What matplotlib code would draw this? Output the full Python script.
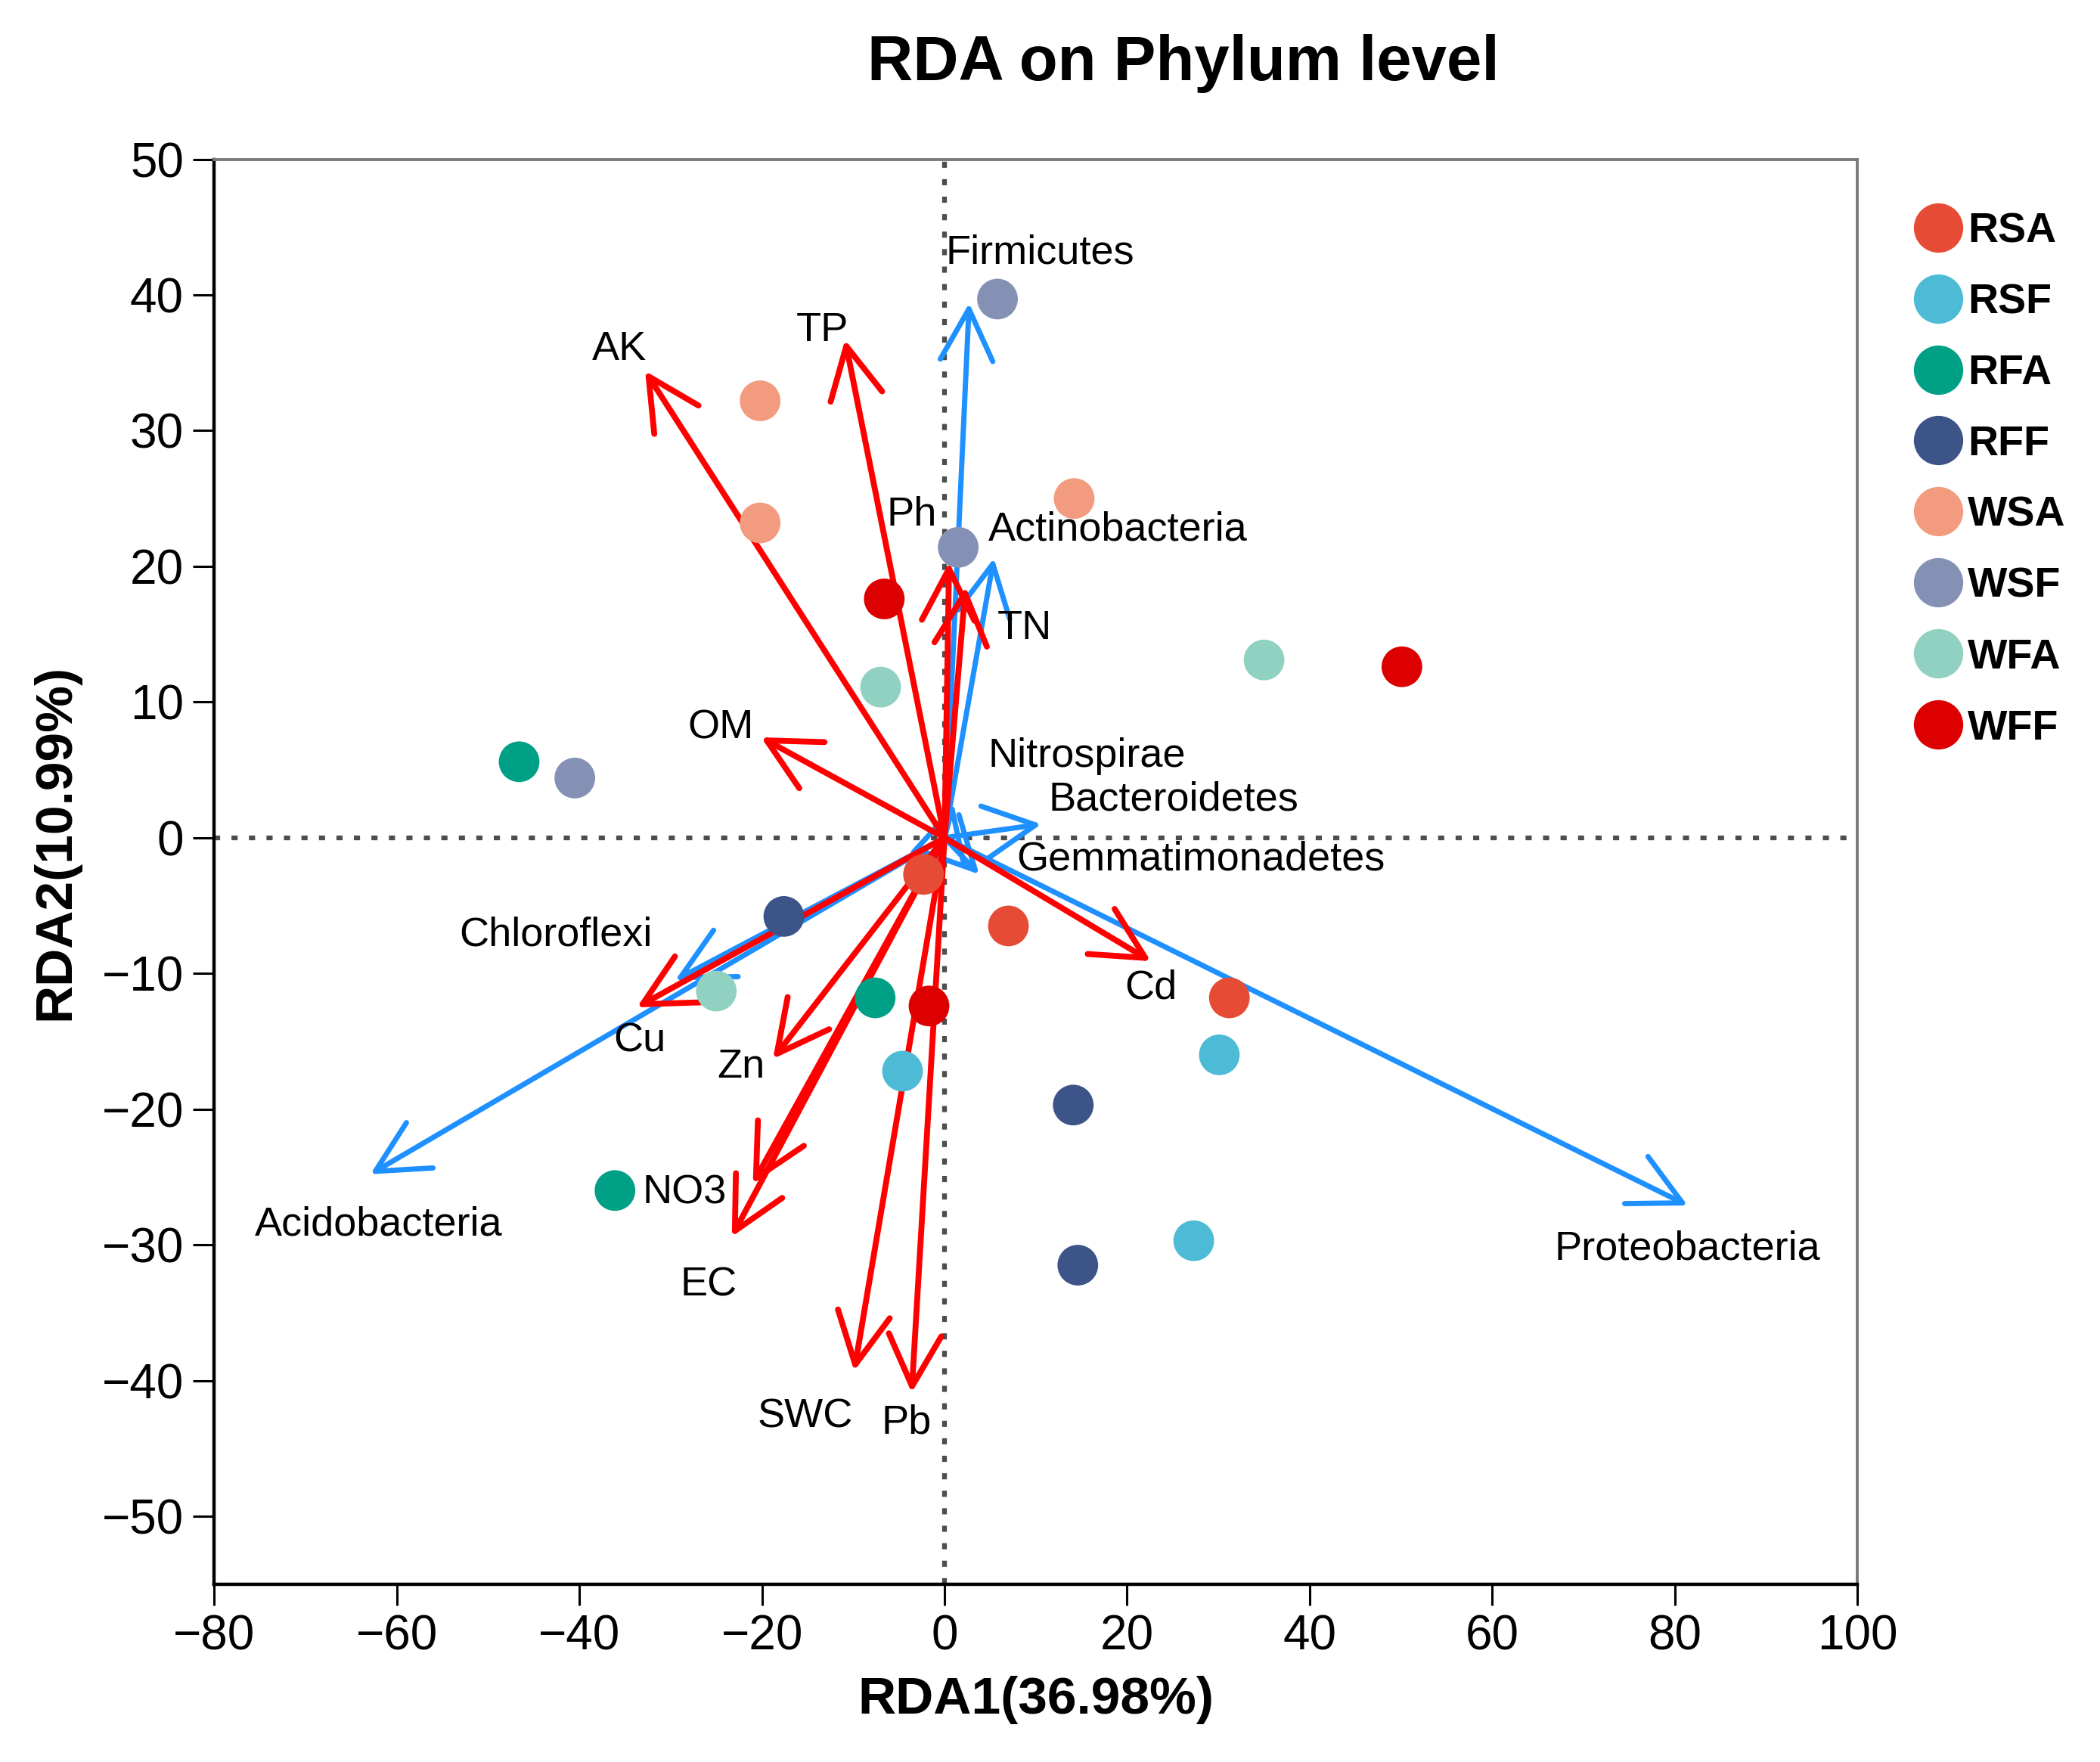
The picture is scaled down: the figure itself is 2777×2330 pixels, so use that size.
"""RDA biplot on phylum level: sites, phylum arrows (blue) and environmental arrows (red)."""
import matplotlib
matplotlib.use("Agg")
import matplotlib.pyplot as plt
from matplotlib.lines import Line2D

plt.rcParams["font.family"] = ["Liberation Sans", "DejaVu Sans"]

# sample groups and site scores (RDA1, RDA2)
GROUPS = ["RSA", "RSF", "RFA", "RFF", "WSA", "WSF", "WFA", "WFF"]
COLORS = ["#E64B35", "#4DBBD5", "#00A087", "#3C5488",
          "#F39B7F", "#8491B4", "#91D1C2", "#DC0000"]
SITE_X = {
    "RSA": [-2.3, 7.0, 31.2],
    "RSF": [-4.6, 30.1, 27.3],
    "RFA": [-46.6, -7.6, -36.1],
    "RFF": [-17.6, 14.1, 14.6],
    "WSA": [-20.2, -20.2, 14.2],
    "WSF": [5.8, 1.5, -40.5],
    "WFA": [-7.0, 35.0, -25.0],
    "WFF": [-6.6, 50.1, -1.7],
}
SITE_Y = {
    "RSA": [-2.7, -6.5, -11.8],
    "RSF": [-17.2, -16.0, -29.7],
    "RFA": [5.6, -11.8, -26.0],
    "RFF": [-5.8, -19.7, -31.5],
    "WSA": [32.2, 23.2, 25.0],
    "WSF": [39.7, 21.4, 4.4],
    "WFA": [11.1, 13.1, -11.3],
    "WFF": [17.6, 12.6, -12.4],
}

# phylum (species) scores
PHYLA = ["Firmicutes", "Actinobacteria", "Nitrospirae", "Bacteroidetes",
         "Gemmatimonadetes", "Chloroflexi", "Acidobacteria", "Proteobacteria"]
PHYLA_X = [2.7, 5.4, 1.0, 10.6, 3.8, -29.5, -62.9, 81.4]
PHYLA_Y = [39.4, 20.6, 2.5, 1.0, -2.7, -10.5, -24.8, -27.1]

# environmental factor scores
ENV = ["AK", "TP", "Ph", "TN", "OM", "Cu", "Zn", "NO3", "EC", "SWC", "Pb", "Cd"]
ENV_X = [-32.8, -10.9, 0.5, 2.3, -20.1, -33.7, -18.8, -21.0, -23.3, -9.9, -3.6, 22.6]
ENV_Y = [34.4, 36.7, 20.3, 18.5, 7.4, -12.5, -16.3, -25.5, -29.4, -39.3, -40.9, -9.1]

# label placement (data coords, horizontal alignment)
PHYLA_LABEL = {
    "Firmicutes": (0.1, 43.1, "left"),
    "Actinobacteria": (4.8, 22.7, "left"),
    "Nitrospirae": (4.8, 6.0, "left"),
    "Bacteroidetes": (11.4, 2.8, "left"),
    "Gemmatimonadetes": (7.9, -1.6, "left"),
    "Chloroflexi": (-42.6, -7.2, "center"),
    "Acidobacteria": (-62.0, -28.5, "center"),
    "Proteobacteria": (81.4, -30.3, "center"),
}
ENV_LABEL = {
    "AK": (-35.6, 36.0, "center"), "TP": (-13.4, 37.4, "center"),
    "Ph": (-3.6, 23.8, "center"), "TN": (5.8, 15.4, "left"),
    "OM": (-24.5, 8.1, "center"), "Cu": (-33.4, -15.0, "center"),
    "Zn": (-22.3, -16.9, "center"), "NO3": (-33.1, -26.2, "left"),
    "EC": (-25.8, -33.0, "center"), "SWC": (-15.3, -42.7, "center"),
    "Pb": (-4.2, -43.1, "center"), "Cd": (22.6, -11.1, "center"),
}

BLUE = "#1E90FF"
RED = "#FF0000"
LABEL_FS = 39


def draw_arrow(ax, x, y, color, lw):
    ax.annotate("", xy=(x, y), xytext=(0, 0),
                arrowprops=dict(arrowstyle="->,head_length=4.9,head_width=2.5",
                                mutation_scale=10, color=color, lw=lw,
                                shrinkA=0, shrinkB=0),
                zorder=2)


def main() -> None:
    fig = plt.figure(figsize=(27.77, 23.30), dpi=100)
    ax = fig.add_axes([0.102, 0.101, 0.7825, 0.8086])
    ax.set_xlim(-80, 100)
    ax.set_ylim(-55, 50)

    # zero lines
    ax.axhline(0, color="#4d4d4d", lw=4.5, ls=(0, (1.3, 2.4)), zorder=1)
    ax.axvline(0, color="#4d4d4d", lw=4.5, ls=(0, (1.3, 2.4)), zorder=1)

    for name, x, y in zip(PHYLA, PHYLA_X, PHYLA_Y):
        draw_arrow(ax, x, y, BLUE, 5.0)
    for name, x, y in zip(ENV, ENV_X, ENV_Y):
        draw_arrow(ax, x, y, RED, 5.6)

    for g, c in zip(GROUPS, COLORS):
        ax.scatter(SITE_X[g], SITE_Y[g], s=1500, color=c, edgecolors="none",
                   zorder=4)

    for name in PHYLA:
        lx, ly, ha = PHYLA_LABEL[name]
        ax.text(lx, ly, name, fontsize=LABEL_FS, ha=ha, va="center", zorder=5)
    for name in ENV:
        lx, ly, ha = ENV_LABEL[name]
        ax.text(lx, ly, name, fontsize=LABEL_FS, ha=ha, va="center", zorder=5)

    # axes styling
    ax.set_xticks(range(-80, 101, 20))
    ax.set_yticks(range(-50, 51, 10))
    ax.tick_params(axis="both", which="major", labelsize=46, length=20,
                   width=2.2, direction="out", pad=9, top=False, right=False)
    for side in ("left", "bottom"):
        ax.spines[side].set_linewidth(3.2)
        ax.spines[side].set_color("black")
    for side in ("top", "right"):
        ax.spines[side].set_linewidth(2.8)
        ax.spines[side].set_color("#7a7a7a")

    fig.text(0.5636, 0.964, "RDA on Phylum level", fontsize=60,
             fontweight="bold", ha="center", va="center")
    fig.text(0.4933, 0.035, "RDA1(36.98%)", fontsize=50, fontweight="bold",
             ha="center", va="center")
    fig.text(0.0266, 0.522, "RDA2(10.99%)", fontsize=50, fontweight="bold",
             ha="center", va="center", rotation=90)

    handles = [Line2D([], [], marker="o", ls="", ms=47, color=c,
                      markeredgecolor="none") for c in COLORS]
    fig.legend(handles, GROUPS, loc="upper left",
               bbox_to_anchor=(0.911, 0.8798), frameon=False,
               prop={"size": 40, "weight": "bold"}, handlelength=1.2,
               handletextpad=0.1, labelspacing=0.755, borderpad=0,
               borderaxespad=0)

    fig.savefig("out.png", dpi=100)
    plt.close(fig)


if __name__ == "__main__":
    main()
